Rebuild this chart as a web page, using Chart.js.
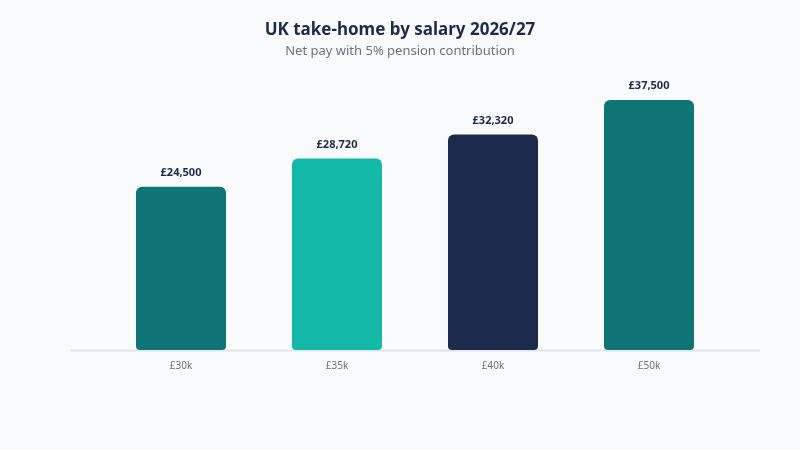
<!DOCTYPE html>
<html>
<head>
<meta charset="utf-8">
<script src="https://cdn.jsdelivr.net/npm/chart.js@4"></script>
<style>
  html, body { margin: 0; padding: 0; background: #f8fafc; }
  #wrap { width: 800px; height: 450px; }
</style>
</head>
<body>
<div id="wrap"><canvas id="salaryChart" width="800" height="450"></canvas></div>
<script>
const salaries = ["£30k", "£35k", "£40k", "£50k"];
const takeHome = [24500, 28720, 32320, 37500];
const barColors = ["#0e7476", "#14b8a6", "#1c2a4b", "#0e7476"];

const FONT = "'Noto Sans', 'Open Sans', sans-serif";

// title + subtitle centred on the canvas, not on the padded plot box
const headings = {
  id: "headings",
  afterDraw(chart) {
    const { ctx, width } = chart;
    ctx.save();
    ctx.textAlign = "center";
    ctx.textBaseline = "middle";
    ctx.fillStyle = "#1e2a4a";
    ctx.font = `bold 17px ${FONT}`;
    ctx.fillText("UK take-home by salary 2026/27", width / 2, 30);
    ctx.fillStyle = "#6b7280";
    ctx.font = `13px ${FONT}`;
    ctx.fillText("Net pay with 5% pension contribution", width / 2, 51);
    ctx.restore();
  },
};

// light baseline drawn wider than the plot area
const baseline = {
  id: "baseline",
  beforeDatasetsDraw(chart) {
    const { ctx, chartArea } = chart;
    ctx.save();
    ctx.strokeStyle = "#e2e5ea";
    ctx.lineWidth = 2;
    ctx.beginPath();
    ctx.moveTo(70, chartArea.bottom + 0.5);
    ctx.lineTo(760, chartArea.bottom + 0.5);
    ctx.stroke();
    ctx.restore();
  },
};

const valueLabels = {
  id: "valueLabels",
  afterDatasetsDraw(chart) {
    const { ctx } = chart;
    const meta = chart.getDatasetMeta(0);
    ctx.save();
    ctx.font = `bold 11px ${FONT}`;
    ctx.fillStyle = "#1e2a4a";
    ctx.textAlign = "center";
    ctx.textBaseline = "middle";
    meta.data.forEach((bar, i) => {
      ctx.fillText("£" + takeHome[i].toLocaleString("en-GB"), bar.x, bar.y - 14);
    });
    ctx.restore();
  },
};

new Chart(document.getElementById("salaryChart"), {
  type: "bar",
  data: {
    labels: salaries,
    datasets: [
      {
        data: takeHome,
        backgroundColor: barColors,
        borderRadius: { topLeft: 6, topRight: 6, bottomLeft: 4, bottomRight: 4 },
        borderSkipped: false,
        barPercentage: 0.577,
        categoryPercentage: 1,
      },
    ],
  },
  options: {
    responsive: false,
    animation: false,
    layout: { padding: { left: 103, right: 73, top: 75, bottom: 68 } },
    scales: {
      x: {
        grid: { display: false, drawTicks: false },
        border: { display: false },
        ticks: { color: "#6b7280", padding: 10, font: { family: FONT, size: 10 } },
      },
      y: { display: false, min: 0, max: 41250 },
    },
    plugins: {
      legend: { display: false },
      tooltip: { enabled: false },
      title: { display: false },
    },
  },
  plugins: [headings, baseline, valueLabels],
});
</script>
</body>
</html>
